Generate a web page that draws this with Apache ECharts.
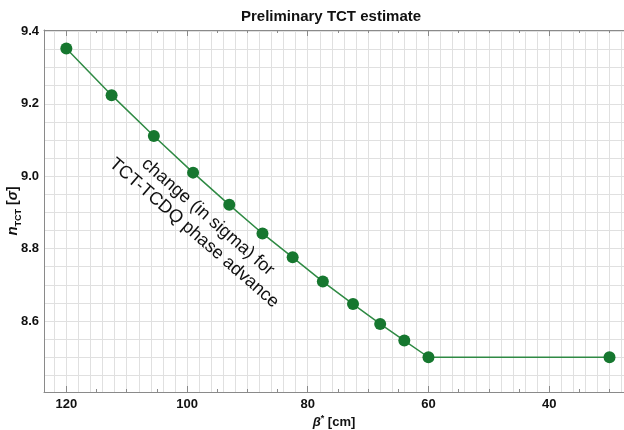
<!DOCTYPE html>
<html>
<head>
<meta charset="utf-8">
<script src="https://cdn.jsdelivr.net/npm/echarts@6/dist/echarts.min.js"></script>
<style>
  html, body { margin: 0; padding: 0; background: #fff; }
  #chart { width: 624px; height: 430px; }
</style>
</head>
<body>
<div id="chart"></div>
<script>
// ==================== data ====================
const betaStar = [120, 112.5, 105.5, 99, 93, 87.5, 82.5, 77.5, 72.5, 68, 64, 60, 30]
const nTCT = [9.353, 9.224, 9.111, 9.010, 8.921, 8.842, 8.776, 8.709, 8.647, 8.592, 8.546, 8.500, 8.500]

const xLabels = [40, 60, 80, 100, 120]
const xMinorTicks = [30, 35, 40, 45, 50, 55, 60, 65, 70, 75, 80, 85, 90, 95, 100, 105, 110, 115, 120]
const yLabels = [8.6, 8.8, 9.0, 9.2, 9.4]

// grid lines: every 2 cm on x, every 0.05 sigma on y
const xGrid = []
for (let v = 28; v <= 122; v += 2) xGrid.push(v)
const yGrid = []
for (let k = 0; k <= 19; k++) yGrid.push(+(8.45 + k * 0.05).toFixed(2))

const xMin = 27.6, xMax = 123.7
const yMin = 8.404, yMax = 9.404

const font = 'Liberation Sans, Arial, Helvetica, sans-serif'
const frameColor = '#8a8a8a'
const gridColor = '#e0e0e0'

// ==================== chart ====================
const chart = echarts.init(document.getElementById('chart'), null, { renderer: 'canvas' })

// helper for the extra x axes (ticks / frame / grid only)
function extraX(position, tickValues, tickLen, opts = {}) {
  return {
    type: 'value', position, min: xMin, max: xMax, inverse: true,
    axisLine: { show: !!opts.line, lineStyle: { color: frameColor, width: 1 } },
    axisTick: { show: !opts.hideTick, customValues: tickValues, inside: true, length: tickLen, lineStyle: { color: frameColor } },
    axisLabel: { show: false },
    splitLine: { show: !!opts.split, lineStyle: { color: gridColor, width: 1 } }
  }
}

const option = {
  backgroundColor: '#fff',
  animation: false,
  title: {
    text: 'Preliminary TCT estimate',
    left: 236,
    top: 4,
    textStyle: { fontFamily: font, fontSize: 15, fontWeight: 'bold', color: '#111' }
  },
  grid: { left: 44, right: 0, top: 30, bottom: 38, containLabel: false, outerBoundsMode: 'none' },
  xAxis: [
    {
      type: 'value', position: 'bottom', min: xMin, max: xMax, inverse: true,
      name: '{b|β}{sup|*}{t| [cm]}',
      nameLocation: 'middle',
      nameGap: 22,
      nameMoveOverlap: false,
      nameTextStyle: {
        rich: {
          b: { fontFamily: font, fontSize: 13, fontWeight: 'bold', fontStyle: 'italic', color: '#111', lineHeight: 16 },
          sup: { fontFamily: font, fontSize: 9, fontWeight: 'bold', color: '#111', verticalAlign: 'top', lineHeight: 9 },
          t: { fontFamily: font, fontSize: 13, fontWeight: 'bold', color: '#111', lineHeight: 16 }
        }
      },
      axisLine: { show: true, lineStyle: { color: frameColor, width: 1 } },
      axisTick: { show: true, customValues: xMinorTicks, inside: true, length: 3, lineStyle: { color: frameColor } },
      axisLabel: {
        customValues: xLabels, margin: 6,
        fontFamily: font, fontSize: 13, fontWeight: 'bold', color: '#111'
      },
      splitLine: { show: false }
    },
    extraX('bottom', xLabels, 6),
    extraX('top', xGrid, 0, { line: true, split: true, hideTick: true }),
    extraX('top', xMinorTicks, 3),
    extraX('top', xLabels, 6)
  ],
  yAxis: {
    type: 'value', min: yMin, max: yMax,
    name: '{n|n}{sub|TCT}{t| [}{s|σ}{t|]}',
    nameLocation: 'middle',
    nameGap: 21,
    nameMoveOverlap: false,
    nameTextStyle: {
      rich: {
        n: { fontFamily: font, fontSize: 15, fontWeight: 'bold', fontStyle: 'italic', color: '#111', lineHeight: 20 },
        sub: { fontFamily: font, fontSize: 9, fontWeight: 'bold', color: '#111', verticalAlign: 'bottom', lineHeight: 9 },
        t: { fontFamily: font, fontSize: 14, fontWeight: 'bold', color: '#111', lineHeight: 20 },
        s: { fontFamily: font, fontSize: 14, fontWeight: 'bold', fontStyle: 'italic', color: '#111', lineHeight: 20 }
      }
    },
    axisLine: { show: true, lineStyle: { color: frameColor, width: 1 } },
    axisTick: { show: false, customValues: yGrid },
    axisLabel: {
      customValues: yLabels, margin: 5,
      formatter: (v) => v.toFixed(1),
      fontFamily: font, fontSize: 13, fontWeight: 'bold', color: '#111'
    },
    splitLine: { show: true, lineStyle: { color: gridColor, width: 1.2 } }
  },
  graphic: [{
    type: 'text',
    x: 201,
    y: 225,
    rotation: -41 * Math.PI / 180,
    z: 100,
    style: {
      text: 'change (in sigma) for\nTCT-TCDQ phase advance',
      fontFamily: font,
      fontSize: 18,
      lineHeight: 21,
      fill: '#111',
      align: 'center',
      verticalAlign: 'middle'
    }
  }],
  series: [{
    type: 'line',
    xAxisIndex: 0,
    data: betaStar.map((x, i) => [x, nTCT[i]]),
    symbol: 'circle',
    symbolSize: 12,
    lineStyle: { color: '#2f8a44', width: 1.5 },
    itemStyle: { color: '#16772f' },
    z: 10
  }]
}

chart.setOption(option)
</script>
</body>
</html>
